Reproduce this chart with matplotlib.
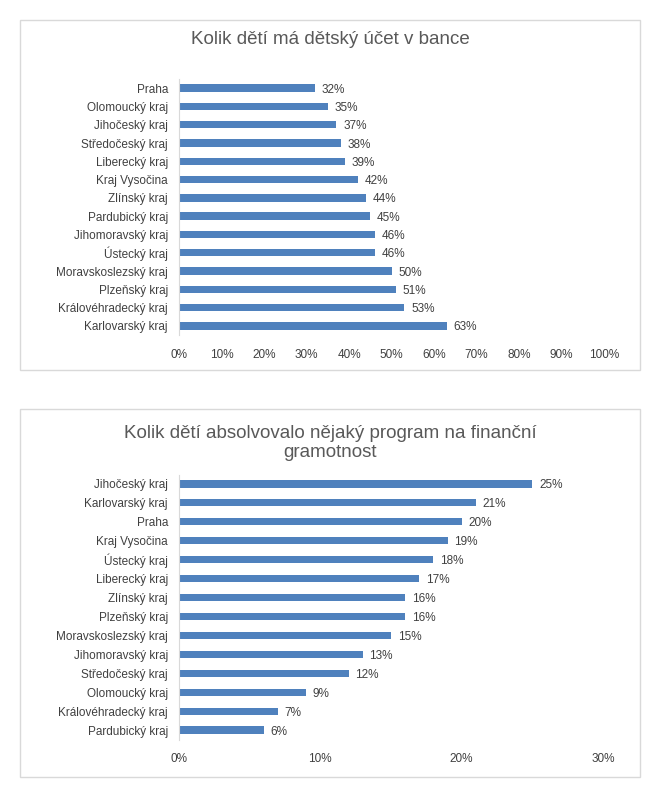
import matplotlib

matplotlib.use("Agg")
import matplotlib.pyplot as plt
from matplotlib.patches import Rectangle

plt.rcParams["font.family"] = ["Liberation Sans", "DejaVu Sans"]

ACCOUNT_TITLE = "Kolik dětí má dětský účet v bance"
ACCOUNT_REGIONS = [
    "Praha", "Olomoucký kraj", "Jihočeský kraj", "Středočeský kraj",
    "Liberecký kraj", "Kraj Vysočina", "Zlínský kraj", "Pardubický kraj",
    "Jihomoravský kraj", "Ústecký kraj", "Moravskoslezský kraj",
    "Plzeňský kraj", "Královéhradecký kraj", "Karlovarský kraj",
]
ACCOUNT_VALUES = [32, 35, 37, 38, 39, 42, 44, 45, 46, 46, 50, 51, 53, 63]
ACCOUNT_TICKS = [0, 10, 20, 30, 40, 50, 60, 70, 80, 90, 100]

PROGRAM_TITLE = "Kolik dětí absolvovalo nějaký program na finanční\ngramotnost"
PROGRAM_REGIONS = [
    "Jihočeský kraj", "Karlovarský kraj", "Praha", "Kraj Vysočina",
    "Ústecký kraj", "Liberecký kraj", "Zlínský kraj", "Plzeňský kraj",
    "Moravskoslezský kraj", "Jihomoravský kraj", "Středočeský kraj",
    "Olomoucký kraj", "Královéhradecký kraj", "Pardubický kraj",
]
PROGRAM_VALUES = [25, 21, 20, 19, 18, 17, 16, 16, 15, 13, 12, 9, 7, 6]
PROGRAM_TICKS = [0, 10, 20, 30]

W, H = 656, 790
BAR_COLOR = "#4f81bd"
TEXT_COLOR = "#595959"
LINE_COLOR = "#d9d9d9"


def px_axes(fig, left, top, right, bottom):
    return fig.add_axes([left / W, 1 - bottom / H, (right - left) / W, (bottom - top) / H])


def box(fig, left, top, right, bottom):
    fig.patches.append(Rectangle((left / W, 1 - bottom / H), (right - left) / W,
                                 (bottom - top) / H, transform=fig.transFigure,
                                 fill=False, edgecolor=LINE_COLOR, linewidth=1.0))


def bar_chart(ax, regions, values, ticks, height):
    y = list(range(len(regions)))
    ax.barh(y, values, height=height, color=BAR_COLOR)
    for yi, v in zip(y, values):
        ax.text(v + ticks[-1] * 0.016, yi, f"{v}%", va="center_baseline", ha="left",
                fontsize=8.5, color="#404040")
    ax.set_yticks(y)
    ax.set_yticklabels(regions, fontsize=8.5, color="#404040")
    ax.set_ylim(len(regions) - 0.5, -0.5)
    ax.set_xlim(ticks[0], ticks[-1])
    ax.set_xticks(ticks)
    ax.set_xticklabels([f"{t}%" for t in ticks], fontsize=8.5, color="#404040")
    ax.tick_params(axis="both", length=0)
    ax.tick_params(axis="y", pad=8)
    ax.tick_params(axis="x", pad=10)
    for side in ["top", "right", "bottom"]:
        ax.spines[side].set_visible(False)
    ax.spines["left"].set_color(LINE_COLOR)
    ax.set_facecolor("none")


fig = plt.figure(figsize=(W / 100, H / 100), dpi=100)

box(fig, 20, 20, 640, 370)
fig.text(330 / W, 1 - 40 / H, ACCOUNT_TITLE, ha="center", va="center",
         fontsize=13.5, color=TEXT_COLOR)
ax1 = px_axes(fig, 179, 79, 604, 335)
bar_chart(ax1, ACCOUNT_REGIONS, ACCOUNT_VALUES, ACCOUNT_TICKS, 0.4)

box(fig, 20, 409, 640, 777)
fig.text(330 / W, 1 - 443 / H, PROGRAM_TITLE, ha="center", va="center",
         fontsize=13.5, color=TEXT_COLOR, linespacing=1.15)
ax2 = px_axes(fig, 179, 474.5, 603, 739.5)
bar_chart(ax2, PROGRAM_REGIONS, PROGRAM_VALUES, PROGRAM_TICKS, 0.38)

fig.savefig("out.png", dpi=100)
